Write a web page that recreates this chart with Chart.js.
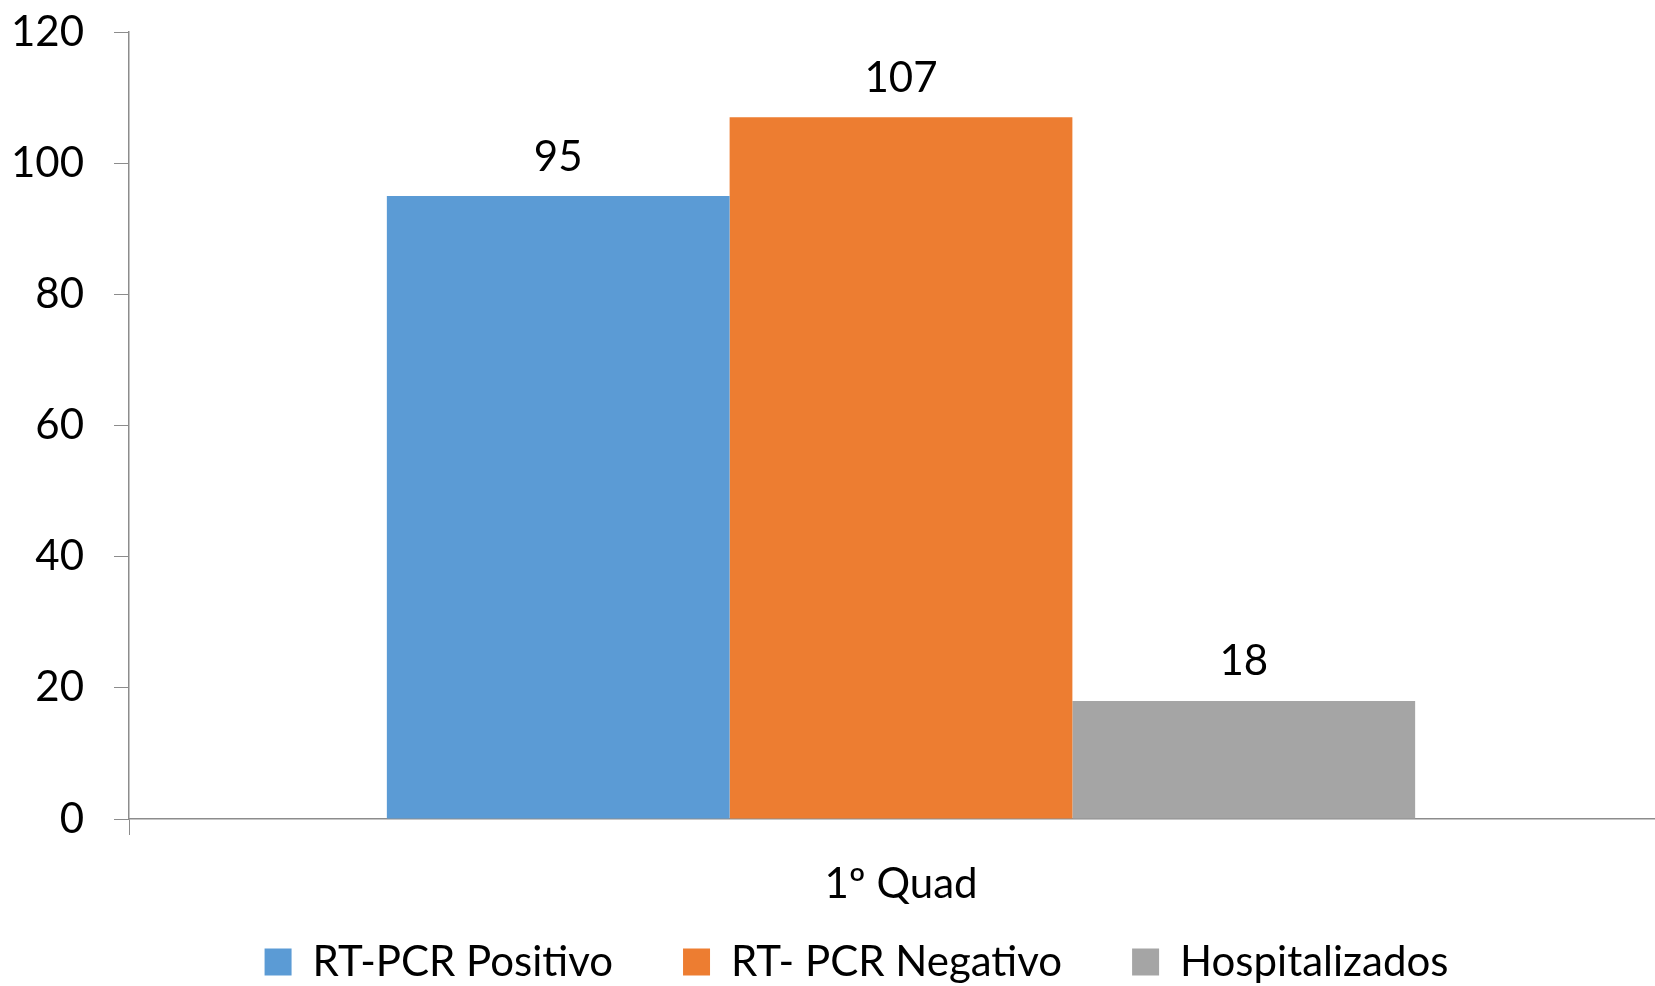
<!DOCTYPE html>
<html>
<head>
<meta charset="utf-8">
<script src="https://cdn.jsdelivr.net/npm/chart.js@4/dist/chart.umd.min.js"></script>
<style>
  html, body { margin: 0; padding: 0; background: #fff; overflow: hidden; }
  #wrap { width: 1673px; height: 986px; }
</style>
</head>
<body>
<div id="wrap"><canvas id="chart" width="1673" height="986"></canvas></div>
<script>
  const categorias = ['1º Quad'];
  const series = ['RT-PCR Positivo', 'RT- PCR Negativo', 'Hospitalizados'];
  const positivo = [95];
  const negativo = [107];
  const hospitalizados = [18];
  const cores = ['#5B9BD5', '#ED7D31', '#A5A5A5'];
  const yTicks = [0, 20, 40, 60, 80, 100, 120];

  const fonte = { family: 'Lato, "Open Sans", sans-serif', size: 42 };
  const corEixo = '#8C8C8C';

  // rótulos de valor acima das barras
  const rotulos = {
    id: 'rotulos',
    afterDatasetsDraw(chart) {
      const ctx = chart.ctx;
      ctx.save();
      ctx.font = `${fonte.size}px ${fonte.family}`;
      ctx.fillStyle = '#000';
      ctx.textAlign = 'center';
      ctx.textBaseline = 'middle';
      chart.data.datasets.forEach((ds, i) => {
        chart.getDatasetMeta(i).data.forEach((bar, j) => {
          ctx.fillText(String(ds.data[j]), bar.x, bar.y - 39);
        });
      });
      ctx.restore();
    }
  };

  // legenda deslocada (direita / acima), como no original
  const ajusteLegenda = {
    id: 'ajusteLegenda',
    afterLayout(chart) {
      const lg = chart.legend;
      lg.left += 20; lg.right += 20;
      lg.top -= 38; lg.bottom -= 38;
    }
  };

  const dados = [positivo, negativo, hospitalizados];

  new Chart(document.getElementById('chart').getContext('2d'), {
    type: 'bar',
    data: {
      labels: categorias,
      datasets: series.map((nome, i) => ({
        label: nome,
        data: dados[i],
        backgroundColor: cores[i],
        borderWidth: 0,
        categoryPercentage: 0.666,
        barPercentage: 1
      }))
    },
    options: {
      responsive: false,
      animation: false,
      layout: { padding: { top: 32, left: 0, right: 0, bottom: -45 } },
      plugins: {
        tooltip: { enabled: false },
        legend: {
          position: 'bottom',
          labels: {
            color: '#000',
            font: fonte,
            boxWidth: 27,
            boxHeight: 27,
            padding: 70
          }
        }
      },
      scales: {
        x: {
          afterFit: s => { s.height = 90; },
          grid: { drawOnChartArea: false, drawTicks: true, tickLength: 16, color: corEixo, offset: true },
          border: { display: true, color: corEixo, width: 1.5 },
          ticks: { color: '#000', font: fonte, padding: 24 }
        },
        y: {
          min: 0,
          max: 120,
          afterBuildTicks: s => { s.ticks = yTicks.map(v => ({ value: v })); },
          afterFit: s => { s.width = 129; s.paddingTop = 0; s.paddingBottom = 0; },
          grid: { drawOnChartArea: false, drawTicks: true, tickLength: 15, color: corEixo },
          border: { display: true, color: corEixo, width: 1.5 },
          ticks: { color: '#000', font: fonte, padding: 30 }
        }
      }
    },
    plugins: [rotulos, ajusteLegenda]
  });
</script>
</body>
</html>
